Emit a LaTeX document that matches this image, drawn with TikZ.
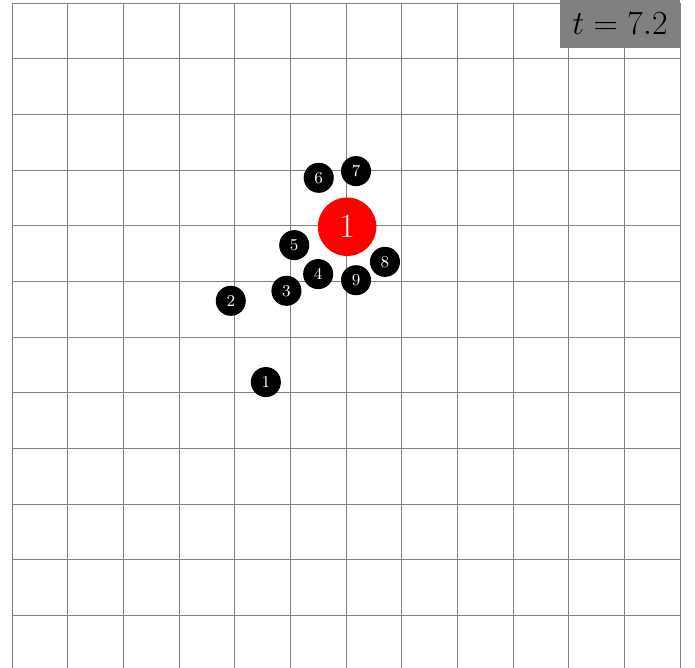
\documentclass[tikz,border=0pt]{standalone}
\usepackage{xcolor}
\usepackage{tikz}
\usetikzlibrary{positioning}

\begin{document}
\begin{tikzpicture}[
  disc/.style={circle, fill=black, text=white, inner sep=0pt, minimum size=0.54cm, font=\fontsize{8.5}{9}\selectfont},
  bigdisc/.style={circle, fill=red, text=white, inner sep=0pt, minimum size=1.05cm, font=\LARGE},
  clock/.style={rectangle, fill=gray, inner sep=0pt, minimum width=2.14cm, minimum height=0.85cm, font=\fontsize{16.4}{18}\selectfont}
]
  \useasboundingbox (-0.216,0.054) rectangle (12.27,12.054);
  \draw[gray, thin] (0,0) grid (12,12);

  \node[bigdisc] (big) at (6.02,7.98) {1};

  \foreach \i/\x/\y in {1/4.56/5.19, 2/3.93/6.65, 3/4.93/6.83, 4/5.50/7.13, 5/5.07/7.65,
                        6/5.51/8.86, 7/6.18/8.98, 8/6.70/7.35, 9/6.18/7.02}
    \node[disc] (p\i) at (\x,\y) {\i};

  \node[clock, anchor=north east] (time) at (12,12.054) {$t=7.2$};
\end{tikzpicture}
\end{document}
